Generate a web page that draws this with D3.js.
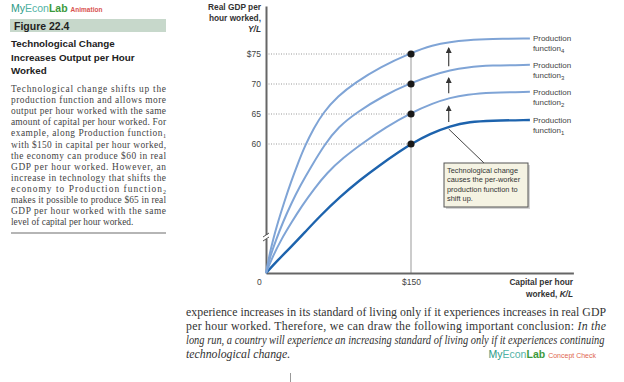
<!DOCTYPE html>
<html>
<head>
<meta charset="utf-8">
<script src="https://cdn.jsdelivr.net/npm/d3@7"></script>
<style>
	body { margin: 0; background: #fff; }
	svg { display: block; }
	.sans { font-family: 'Liberation Sans', Arial, sans-serif; }
	.serif { font-family: 'Liberation Serif', 'Times New Roman', serif; }
</style>
</head>
<body>
<svg id="chart" width="624" height="382"></svg>
<script>
// capital per hour worked (K/L) and real GDP per hour worked (Y/L)
const pf1 = [[0, 0], [12.4, 17.3], [24.8, 33.3], [40.3, 45.3], [55.9, 48], [76.6, 51.2], [97.2, 54], [117.9, 56.5], [138.6, 58.8], [150, 60], [169.7, 61.7], [190.3, 63], [211, 63.7], [231.7, 63.9], [273, 64]]
const pf2 = [[0, 0], [7.2, 22.7], [15.5, 44], [25.9, 46.8], [37.2, 49.7], [49.7, 52.5], [63.1, 55.2], [79.7, 57.7], [100.3, 60.2], [124.1, 62.8], [150, 65.2], [172.8, 66.8], [190.3, 67.7], [207.9, 68.25], [231.7, 68.6], [273, 68.7]]
const pf3 = [[0, 0], [4.1, 21.3], [10.3, 44], [17.6, 47], [25.9, 50], [35.2, 53], [46.6, 56.2], [61, 60], [74.5, 62.8], [94.1, 65.3], [121, 68], [150, 70.2], [172.8, 71.5], [190.3, 72.3], [207.9, 72.8], [231.7, 73.1], [273, 73.2]]
const pf4 = [[0, 0], [3.1, 21.3], [7.2, 44], [12.4, 47], [18.6, 50.2], [25.9, 53.7], [33.1, 56.8], [40.3, 59.7], [49.7, 62.7], [59, 65.2], [74.5, 68], [92.1, 70.2], [117.9, 72.8], [150, 75.2], [172.8, 76.5], [190.3, 77], [207.9, 77.3], [231.7, 77.5], [273, 77.6]]

const curves = [pf1, pf2, pf3, pf4]
const curveEnds = [64, 68.7, 73.2, 77.6]
const yTicks = [60, 65, 70, 75]
const yTickLabels = ['60', '65', '70', '$75']
const capitalMark = 150
const dotValues = [60, 65, 70, 75]
const shiftArrows = [[63.5, 66.8], [68.3, 71.5], [72.8, 76.5]]
const calloutText = ['Technological change', 'causes the per-worker', 'production function to', 'shift up.']

const bodyLines = [
	['Technological change shifts up the'],
	['production function and allows more'],
	['output per hour worked with the same'],
	['amount of capital per hour worked. For'],
	['example, along Production function', '1'],
	['with $150 in capital per hour worked,'],
	['the economy can produce $60 in real'],
	['GDP per hour worked. However, an'],
	['increase in technology that shifts the'],
	['economy to Production function', '2'],
	['makes it possible to produce $65 in real'],
	['GDP per hour worked with the same'],
	['level of capital per hour worked.']
]

const svg = d3.select('#chart')

// broken y axis: 0..44 squeezed below the break
const x = d3.scaleLinear().domain([0, 318]).range([266, 266 + 318 * 145 / 150])
const y = d3.scaleLinear().domain([0, 44, 75, 83]).range([273, 240, 54, 6])

// dotted guides
const grid = svg.append('g')
grid.selectAll('line.h')
	.data(yTicks)
	.enter()
	.append('line')
	.attr('x1', x(0))
	.attr('x2', x(capitalMark))
	.attr('y1', d => y(d))
	.attr('y2', d => y(d))
	.attr('stroke', '#999')
	.attr('stroke-width', 1)
	.attr('stroke-dasharray', '1,1.5')
grid.append('line')
	.attr('x1', x(capitalMark))
	.attr('x2', x(capitalMark))
	.attr('y1', y(75))
	.attr('y2', y(0))
	.attr('stroke', '#bbb')
	.attr('stroke-width', 1.5)

// axes
const yAxis = d3.axisLeft(y).tickValues(yTicks).tickSize(0).tickPadding(5)
	.tickFormat((d, i) => yTickLabels[i])
const gy = svg.append('g').attr('transform', `translate(${x(0)},0)`).call(yAxis)
gy.select('.domain').attr('stroke', '#666').attr('stroke-width', 2)
gy.selectAll('text').attr('class', 'sans').attr('font-size', 8.5).attr('fill', '#444')

const xAxis = d3.axisBottom(x).tickValues([capitalMark]).tickSize(0).tickPadding(6)
	.tickFormat(d => '$' + d)
const gx = svg.append('g').attr('transform', `translate(0,${y(0)})`).call(xAxis)
gx.select('.domain').attr('stroke', '#666').attr('stroke-width', 2)
gx.selectAll('text').attr('class', 'sans').attr('font-size', 8.5).attr('fill', '#444')

svg.append('text').attr('class', 'sans')
	.attr('x', x(0) - 9).attr('y', y(0) + 12)
	.attr('font-size', 8.5).attr('fill', '#444')
	.text('0')

// axis break
const yb = 237
svg.append('rect').attr('x', x(0) - 3).attr('y', yb - 2).attr('width', 6).attr('height', 4).attr('fill', '#fff')
;[-2, 2].forEach(o => {
	svg.append('line')
		.attr('x1', x(0) - 3).attr('x2', x(0) + 3)
		.attr('y1', yb + o + 2).attr('y2', yb + o - 2)
		.attr('stroke', '#555').attr('stroke-width', 1)
})

// production functions
const line = d3.line()
	.x(d => x(d[0]))
	.y(d => y(d[1]))
	.curve(d3.curveBasis)

svg.append('g')
	.selectAll('path')
	.data(curves)
	.enter()
	.append('path')
	.attr('d', d => line(d))
	.attr('fill', 'none')
	.attr('stroke', (d, i) => i === 0 ? '#1d63ad' : '#7fa4d6')
	.attr('stroke-width', (d, i) => i === 0 ? 2.4 : 2)

// dots at K/L = 150
svg.append('g')
	.selectAll('circle')
	.data(dotValues)
	.enter()
	.append('circle')
	.attr('cx', x(capitalMark))
	.attr('cy', d => y(d))
	.attr('r', 3.6)
	.attr('fill', '#1a1a1a')

// labels on the right
const labels = svg.append('g').attr('class', 'sans').attr('font-size', 8).attr('fill', '#444')
curveEnds.forEach((v, i) => {
	labels.append('text').attr('x', x(273) + 3).attr('y', y(v) + 3).text('Production')
	const t2 = labels.append('text').attr('x', x(273) + 3).attr('y', y(v) + 13)
	t2.append('tspan').text('function')
	t2.append('tspan').attr('dy', 2).attr('font-size', 6).text(i + 1)
})

// shift arrows
svg.append('defs').append('marker')
	.attr('id', 'head')
	.attr('viewBox', '0 0 6 6')
	.attr('refX', 5).attr('refY', 3)
	.attr('markerWidth', 5).attr('markerHeight', 5)
	.attr('orient', 'auto')
	.append('path')
	.attr('d', 'M0,0L6,3L0,6Z')
	.attr('fill', '#333')

const ax = 189
svg.append('g')
	.selectAll('line')
	.data(shiftArrows)
	.enter()
	.append('line')
	.attr('x1', x(ax)).attr('x2', x(ax))
	.attr('y1', d => y(d[0]) - 1)
	.attr('y2', d => y(d[1]) + 3)
	.attr('stroke', '#444')
	.attr('stroke-width', 1.2)
	.attr('marker-end', 'url(#head)')

// callout
svg.append('line')
	.attr('x1', x(ax)).attr('y1', y(62.5))
	.attr('x2', 484).attr('y2', 163)
	.attr('stroke', '#444').attr('stroke-width', 1)

svg.append('rect').attr('x', 446).attr('y', 165).attr('width', 84).attr('height', 44).attr('fill', '#d4d4d4')
svg.append('rect').attr('x', 444).attr('y', 163).attr('width', 84).attr('height', 44)
	.attr('fill', '#f5f3e3').attr('stroke', '#555').attr('stroke-width', 1)
svg.append('g').attr('class', 'sans').attr('font-size', 7.4).attr('fill', '#333')
	.selectAll('text')
	.data(calloutText)
	.enter()
	.append('text')
	.attr('x', 447)
	.attr('y', (d, i) => 172.5 + i * 9.5)
	.text(d => d)

// axis titles
const yTitle = svg.append('text').attr('class', 'sans').attr('font-size', 8.3).attr('font-weight', 'bold')
	.attr('fill', '#333').attr('text-anchor', 'end')
yTitle.append('tspan').attr('x', 261).attr('y', 10).text('Real GDP per')
yTitle.append('tspan').attr('x', 261).attr('y', 21).text('hour worked,')
yTitle.append('tspan').attr('x', 261).attr('y', 32).attr('font-style', 'italic').text('Y/L')

const xTitle = svg.append('text').attr('class', 'sans').attr('font-size', 8.3).attr('font-weight', 'bold')
	.attr('fill', '#333').attr('text-anchor', 'end')
xTitle.append('tspan').attr('x', 573).attr('y', 285).text('Capital per hour')
const xl2 = xTitle.append('tspan').attr('x', 573).attr('y', 297)
xl2.append('tspan').text('worked, ')
xl2.append('tspan').attr('font-style', 'italic').text('K/L')

// left panel
const brand = svg.append('text').attr('class', 'sans').attr('x', 11).attr('y', 12).attr('font-size', 10.5)
brand.append('tspan').attr('fill', '#2a9a86').text('My')
brand.append('tspan').attr('fill', '#52b3a6').text('Econ')
brand.append('tspan').attr('fill', '#3c9a3c').attr('font-weight', 'bold').text('Lab')
brand.append('tspan').attr('fill', '#d9534f').attr('font-size', 6.5).attr('font-weight', 'bold').attr('dx', 3).text('Animation')

svg.append('rect').attr('x', 10).attr('y', 19).attr('width', 156).attr('height', 13).attr('fill', '#c7d8cb')
svg.append('text').attr('class', 'sans').attr('x', 14).attr('y', 29.5)
	.attr('font-size', 10.5).attr('font-weight', 'bold').attr('fill', '#222').text('Figure 22.4')

svg.append('g').attr('class', 'sans').attr('font-size', 9.8).attr('font-weight', 'bold').attr('fill', '#222')
	.selectAll('text')
	.data(['Technological Change', 'Increases Output per Hour', 'Worked'])
	.enter()
	.append('text')
	.attr('x', 11)
	.attr('y', (d, i) => 47 + i * 13.5)
	.text(d => d)

const body = svg.append('g').attr('class', 'serif').attr('font-size', 9.4).attr('fill', '#444')
bodyLines.forEach((ln, i) => {
	const t = body.append('text').attr('x', 11).attr('y', 92 + i * 11.1)
	t.append('tspan').text(ln[0])
	if (ln[1]) t.append('tspan').attr('dy', 1.8).attr('font-size', 6).text(ln[1])
	if (i < bodyLines.length - 1) t.attr('textLength', 155).attr('lengthAdjust', 'spacing')
})

svg.append('line').attr('x1', 11).attr('x2', 166).attr('y1', 233).attr('y2', 233)
	.attr('stroke', '#b5b5b5').attr('stroke-width', 2)

// text under the chart
const foot = svg.append('g').attr('class', 'serif').attr('font-size', 11.8).attr('fill', '#333')
foot.append('text').attr('x', 186).attr('y', 316).attr('textLength', 420).attr('lengthAdjust', 'spacing')
	.text('experience increases in its standard of living only if it experiences increases in real GDP')
const f2 = foot.append('text').attr('x', 186).attr('y', 330).attr('textLength', 420).attr('lengthAdjust', 'spacing')
f2.append('tspan').text('per hour worked. Therefore, we can draw the following important conclusion: ')
f2.append('tspan').attr('font-style', 'italic').text('In the')

// the italic line is set condensed: squeeze it horizontally to the column width
const f3 = foot.append('text').attr('x', 0).attr('y', 0).attr('font-style', 'italic')
	.text('long run, a country will experience an increasing standard of living only if it experiences continuing')
const w3 = f3.node().getComputedTextLength()
f3.attr('transform', `translate(186,344) scale(${Math.min(1, 419 / w3)},1)`)

foot.append('text').attr('x', 186).attr('y', 358).attr('font-style', 'italic').text('technological change.')

const cc = svg.append('text').attr('class', 'sans').attr('x', 596).attr('y', 358).attr('text-anchor', 'end').attr('font-size', 10.5)
cc.append('tspan').attr('fill', '#2a9a86').text('My')
cc.append('tspan').attr('fill', '#52b3a6').text('Econ')
cc.append('tspan').attr('fill', '#3c9a3c').attr('font-weight', 'bold').text('Lab')
cc.append('tspan').attr('fill', '#e0664f').attr('font-size', 7).attr('dx', 3).text('Concept Check')

svg.append('line').attr('x1', 290.5).attr('x2', 290.5).attr('y1', 373).attr('y2', 382)
	.attr('stroke', '#999').attr('stroke-width', 1)
</script>
</body>
</html>
